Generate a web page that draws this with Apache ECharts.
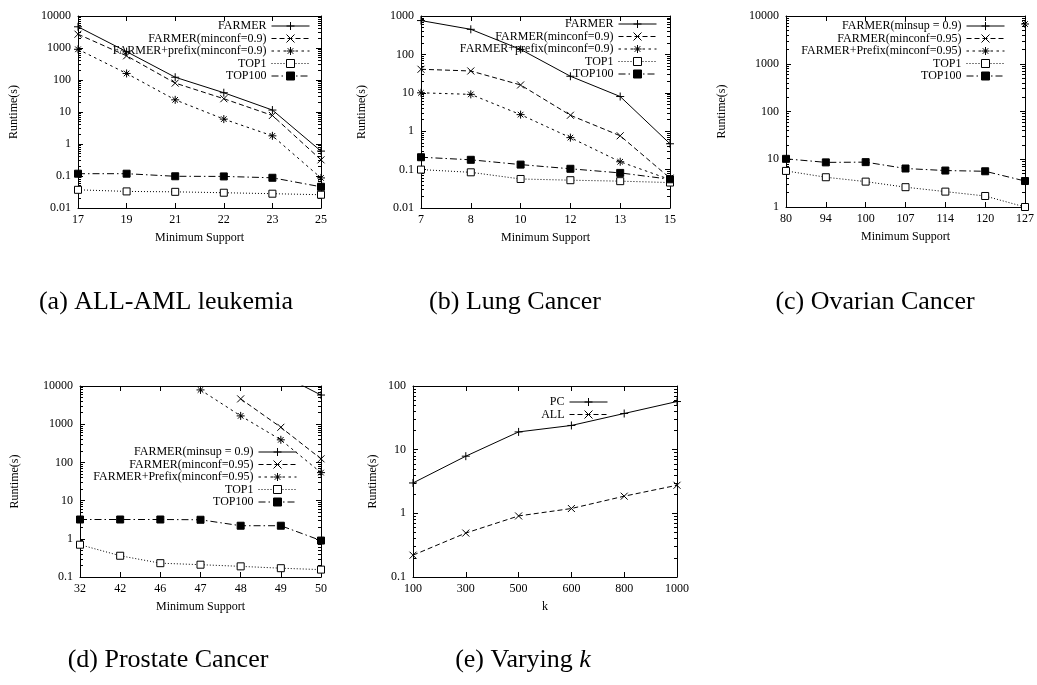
<!DOCTYPE html>
<html>
<head>
<meta charset="utf-8">
<script src="https://cdn.jsdelivr.net/npm/echarts@6/dist/echarts.min.js"></script>
<style>
  html, body { margin: 0; padding: 0; background: #fff; }
  #main { width: 1037px; height: 685px; }
</style>
</head>
<body>
<div id="main"></div>
<script>
// ---- (a) ALL-AML leukemia ----
const supportA = ['17', '19', '21', '22', '23', '25'];
const farmerA  = [4600, 770, 122, 40, 11.5, 0.6];
const minconfA = [2700, 570, 80, 26, 7.8, 0.32];
const prefixA  = [910, 160, 24, 6.0, 1.8, 0.087];
const top1A    = [0.037, 0.033, 0.032, 0.030, 0.028, 0.026];
const top100A  = [0.118, 0.118, 0.098, 0.097, 0.088, 0.046];

// ---- (b) Lung Cancer ----
const supportB = ['7', '8', '10', '12', '13', '15'];
const farmerB  = [760, 450, 135, 27, 8.0, 0.47];
const minconfB = [41, 37, 16, 2.6, 0.76, 0.06];
const prefixB  = [10, 9.1, 2.7, 0.68, 0.16, 0.055];
const top1B    = [0.1, 0.085, 0.057, 0.053, 0.050, 0.046];
const top100B  = [0.21, 0.18, 0.135, 0.105, 0.082, 0.056];

// ---- (c) Ovarian Cancer ----
const supportC = ['80', '94', '100', '107', '114', '120', '127'];
const farmerC  = [null, null, null, null, null, null, null];
const minconfC = [null, null, null, null, null, null, null];
const prefixC  = [null, null, null, null, null, null, 6800];
const top1C    = [5.7, 4.2, 3.4, 2.6, 2.1, 1.7, 1.0];
const top100C  = [10.2, 8.6, 8.7, 6.4, 5.8, 5.6, 3.5];

// ---- (d) Prostate Cancer ----
const supportD = ['32', '42', '46', '47', '48', '49', '50'];
const farmerD  = [null, null, null, null, null, 20000, 5800];
const minconfD = [null, null, null, null, 4600, 830, 124];
const prefixD  = [null, null, null, 7900, 1650, 390, 54];
const top1D    = [0.70, 0.36, 0.23, 0.21, 0.19, 0.17, 0.156];
const top100D  = [3.2, 3.2, 3.2, 3.15, 2.2, 2.2, 0.9];

// ---- (e) Varying k ----
const kValues = ['100', '300', '500', '600', '800', '1000'];
const pcE     = [3.0, 7.9, 19, 24, 37, 57];
const allE    = [0.22, 0.49, 0.91, 1.19, 1.86, 2.76];

const FONT = 'Liberation Serif';
const BLACK = '#000';

// marker shapes (stroked paths)
const PLUS  = 'path://M0,5L10,5M5,0L5,10';
const CROSS = 'path://M0,0L10,10M0,10L10,0';
const STAR  = 'path://M0,5L10,5M5,0L5,10M1.5,1.5L8.5,8.5M1.5,8.5L8.5,1.5';

// line dash patterns
const SOLID = 'solid';
const DASH = [5, 3];
const SHORTDASH = [2.5, 3.5];
const DOT = [1, 2];
const DASHDOT = [7, 3, 1.5, 3];

function line(gi, name, data, symbol, dash, fill, size) {
  return {
    type: 'line', name, data,
    xAxisIndex: 2 * gi, yAxisIndex: 2 * gi,
    symbol, symbolSize: size, showSymbol: true, showAllSymbol: true,
    connectNulls: false, clip: true, animation: false,
    lineStyle: { color: BLACK, width: 1, type: dash },
    itemStyle: { color: fill, borderColor: BLACK, borderWidth: 1 },
    emphasis: { disabled: true }
  };
}

const txt = { color: BLACK, fontFamily: FONT, fontSize: 12 };

function xAxes(gi, cats, name, nameGap) {
  const base = {
    gridIndex: gi, type: 'category', data: cats, boundaryGap: false,
    axisLine: { show: true, onZero: false, lineStyle: { color: BLACK, width: 1 } },
    axisTick: { show: true, inside: true, length: 5, interval: 0, lineStyle: { color: BLACK } },
    splitLine: { show: false }
  };
  return [
    Object.assign({}, base, {
      position: 'bottom',
      axisLabel: Object.assign({ interval: 0, margin: 6 }, txt),
      name, nameLocation: 'middle', nameGap, nameTextStyle: txt
    }),
    Object.assign({}, base, { position: 'top', axisLabel: { show: false } })
  ];
}

function yAxes(gi, min, max, nameGap) {
  const base = {
    gridIndex: gi, type: 'log', logBase: 10, min, max,
    axisLine: { show: true, onZero: false, lineStyle: { color: BLACK, width: 1 } },
    axisTick: { show: true, inside: true, length: 5, lineStyle: { color: BLACK } },
    minorTick: { show: true, splitNumber: 9, length: 3, lineStyle: { color: BLACK } },
    splitLine: { show: false }, minorSplitLine: { show: false }
  };
  return [
    Object.assign({}, base, {
      position: 'left',
      axisLabel: Object.assign({ margin: 7, formatter: v => String(+Number(v).toPrecision(6)) }, txt),
      name: 'Runtime(s)', nameLocation: 'middle', nameRotate: 90, nameGap, nameTextStyle: txt
    }),
    Object.assign({}, base, { position: 'right', axisLabel: { show: false } })
  ];
}

function legend(names, right, top) {
  return {
    data: names, orient: 'vertical', align: 'right', right, top,
    itemWidth: 38, itemHeight: 10, itemGap: 0.5, padding: 0,
    selectedMode: false, textStyle: txt,
    itemStyle: { borderWidth: 1 },
    lineStyle: { width: 1 }
  };
}

const grids = [
  { left: 78,  top: 16,  width: 243, height: 192 },
  { left: 421, top: 16,  width: 249, height: 192 },
  { left: 786, top: 16,  width: 243, height: 191 },
  { left: 80,  top: 386, width: 241, height: 191 },
  { left: 413, top: 386, width: 264, height: 191 }
];

const namesAB = ['FARMER', 'FARMER(minconf=0.9)', 'FARMER+prefix(minconf=0.9)', 'TOP1', 'TOP100'];
const namesCD = ['FARMER(minsup = 0.9)', 'FARMER(minconf=0.95)', 'FARMER+Prefix(minconf=0.95)', 'TOP1', 'TOP100'];

const xAxis = [].concat(
  xAxes(0, supportA, 'Minimum Support', 24),
  xAxes(1, supportB, 'Minimum Support', 24),
  xAxes(2, supportC, 'Minimum Support', 24),
  xAxes(3, supportD, 'Minimum Support', 24),
  xAxes(4, kValues, 'k', 24)
);
const yAxis = [].concat(
  yAxes(0, 0.01, 10000, 58),
  yAxes(1, 0.01, 1000, 53),
  yAxes(2, 1, 10000, 58),
  yAxes(3, 0.1, 10000, 59),
  yAxes(4, 0.1, 100, 34)
);

function fiveSeries(gi, names, f, m, p, t1, t100) {
  return [
    line(gi, names[0], f, PLUS, SOLID, 'rgba(0,0,0,0)', 8),
    line(gi, names[1], m, CROSS, DASH, 'rgba(0,0,0,0)', 7),
    line(gi, names[2], p, STAR, SHORTDASH, 'rgba(0,0,0,0)', 8),
    line(gi, names[3], t1, 'rect', DOT, '#fff', 7),
    line(gi, names[4], t100, 'rect', DASHDOT, BLACK, 7)
  ];
}

const series = [].concat(
  fiveSeries(0, namesAB, farmerA, minconfA, prefixA, top1A, top100A),
  fiveSeries(1, namesAB, farmerB, minconfB, prefixB, top1B, top100B),
  fiveSeries(2, namesCD, farmerC, minconfC, prefixC, top1C, top100C),
  fiveSeries(3, namesCD, farmerD, minconfD, prefixD, top1D, top100D),
  [
    line(4, 'PC', pcE, PLUS, SOLID, 'rgba(0,0,0,0)', 8),
    line(4, 'ALL', allE, CROSS, DASH, 'rgba(0,0,0,0)', 7)
  ]
);

const capFont = '26px "Liberation Serif"';
function caption(x, y, text, rich) {
  return {
    type: 'text', x, y, silent: true,
    style: { text, font: capFont, fill: BLACK, align: 'center', verticalAlign: 'middle', rich }
  };
}

const option = {
  animation: false,
  backgroundColor: '#fff',
  textStyle: { fontFamily: FONT },
  grid: grids,
  xAxis, yAxis,
  legend: [
    legend(namesAB, 727, 20),
    legend(namesAB, 380, 18),
    legend(namesCD, 32, 20),
    legend(namesCD, 740, 446),
    legend(['PC', 'ALL'], 429, 396)
  ],
  series,
  graphic: [
    caption(166, 302, '(a) ALL-AML leukemia'),
    caption(515, 302, '(b) Lung Cancer'),
    caption(875, 302, '(c) Ovarian Cancer'),
    caption(168, 660, '(d) Prostate Cancer'),
    caption(523, 660, '(e) Varying {k|k}', { k: { fontStyle: 'italic', fontSize: 26, fontFamily: FONT } })
  ]
};

const chart = echarts.init(document.getElementById('main'));
chart.setOption(option);
</script>
</body>
</html>
